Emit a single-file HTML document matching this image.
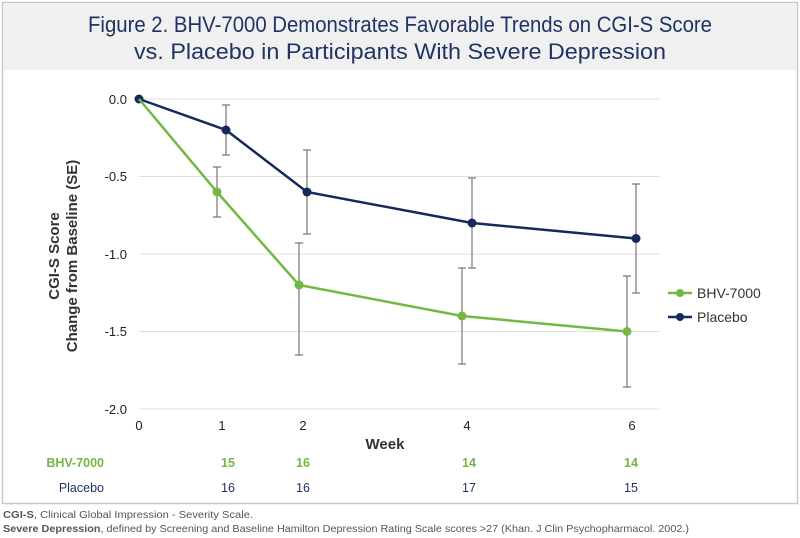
<!DOCTYPE html>
<html><head><meta charset="utf-8"><style>
html,body{margin:0;padding:0;background:#fff;}
svg{display:block;font-family:"Liberation Sans",Arial,sans-serif;}
</style></head><body>
<svg width="800" height="538" viewBox="0 0 800 538" xmlns="http://www.w3.org/2000/svg">
<rect x="2.5" y="2.5" width="795" height="501" fill="#fff" stroke="#c8c8c8" stroke-width="1.5"/>
<rect x="3" y="3" width="794" height="67" fill="#f0f0f0"/>
<text x="400" y="32" text-anchor="middle" font-size="22" fill="#1f3364" textLength="624" lengthAdjust="spacingAndGlyphs">Figure 2. BHV-7000 Demonstrates Favorable Trends on CGI-S Score</text>
<text x="400" y="59" text-anchor="middle" font-size="22" fill="#1f3364" textLength="532" lengthAdjust="spacingAndGlyphs">vs. Placebo in Participants With Severe Depression</text>
<g stroke="#e0e0e0" stroke-width="1">
<line x1="139" y1="99" x2="660" y2="99"/>
<line x1="139" y1="176.5" x2="660" y2="176.5"/>
<line x1="139" y1="254" x2="660" y2="254"/>
<line x1="139" y1="331.5" x2="660" y2="331.5"/>
<line x1="139" y1="409" x2="660" y2="409"/>
</g>
<g font-size="13" fill="#222" text-anchor="end">
<text x="127" y="104">0.0</text>
<text x="127" y="181">-0.5</text>
<text x="127" y="259">-1.0</text>
<text x="127" y="336">-1.5</text>
<text x="127" y="414">-2.0</text>
</g>
<g font-size="13" fill="#222" text-anchor="middle">
<text x="139" y="430">0</text>
<text x="222" y="430">1</text>
<text x="303" y="430">2</text>
<text x="467" y="430">4</text>
<text x="632" y="430">6</text>
</g>
<text x="385" y="449" text-anchor="middle" font-size="15" font-weight="bold" fill="#333">Week</text>
<g transform="translate(64,256) rotate(-90)" text-anchor="middle" font-size="15" font-weight="bold" fill="#333">
<text x="0" y="-5">CGI-S Score</text>
<text x="0" y="13">Change from Baseline (SE)</text>
</g>
<g stroke="#777" stroke-width="1.2" fill="none">
<path d="M226 105V155M222 105h8M222 155h8"/>
<path d="M307 150V234M303 150h8M303 234h8"/>
<path d="M472 178V268M468 178h8M468 268h8"/>
<path d="M636 184V293M632 184h8M632 293h8"/>
<path d="M217 167V217M213 167h8M213 217h8"/>
<path d="M299 243V355M295 243h8M295 355h8"/>
<path d="M462 268V364M458 268h8M458 364h8"/>
<path d="M627 276V387M623 276h8M623 387h8"/>
</g>
<polyline points="139,99 226,130 307,192 472,223 636,238.5" fill="none" stroke="#15295a" stroke-width="2.5"/>
<g fill="#15295a"><circle cx="139" cy="99" r="4.5"/><circle cx="226" cy="130" r="4.5"/><circle cx="307" cy="192" r="4.5"/><circle cx="472" cy="223" r="4.5"/><circle cx="636" cy="238.5" r="4.5"/></g>
<polyline points="139,99 217,192 299,285 462,316 627,331.5" fill="none" stroke="#72b843" stroke-width="2.5"/>
<g fill="#72b843"><circle cx="217" cy="192" r="4.5"/><circle cx="299" cy="285" r="4.5"/><circle cx="462" cy="316" r="4.5"/><circle cx="627" cy="331.5" r="4.5"/></g>
<line x1="668" y1="293" x2="692" y2="293" stroke="#72b843" stroke-width="2.5"/><circle cx="680" cy="293" r="4" fill="#72b843"/>
<text x="697" y="298" font-size="14" fill="#333">BHV-7000</text>
<line x1="668" y1="317" x2="692" y2="317" stroke="#15295a" stroke-width="2.5"/><circle cx="680" cy="317" r="4" fill="#15295a"/>
<text x="697" y="322" font-size="14" fill="#333">Placebo</text>
<text x="104" y="467" text-anchor="end" font-size="12.5" font-weight="bold" fill="#72b843">BHV-7000</text>
<g font-size="12.5" font-weight="bold" fill="#72b843" text-anchor="middle">
<text x="228" y="467">15</text><text x="303" y="467">16</text><text x="469" y="467">14</text><text x="631" y="467">14</text>
</g>
<text x="104" y="492" text-anchor="end" font-size="12.5" fill="#1f3364">Placebo</text>
<g font-size="12.5" fill="#1f3364" text-anchor="middle">
<text x="228" y="492">16</text><text x="303" y="492">16</text><text x="469" y="492">17</text><text x="631" y="492">15</text>
</g>
<text x="3" y="518" font-size="10.5" fill="#555" textLength="250" lengthAdjust="spacingAndGlyphs"><tspan font-weight="bold">CGI-S</tspan>, Clinical Global Impression - Severity Scale.</text>
<text x="3" y="532" font-size="10.5" fill="#555" textLength="686" lengthAdjust="spacingAndGlyphs"><tspan font-weight="bold">Severe Depression</tspan>, defined by Screening and Baseline Hamilton Depression Rating Scale scores &gt;27 (Khan. J Clin Psychopharmacol. 2002.)</text>
</svg>
</body></html>
